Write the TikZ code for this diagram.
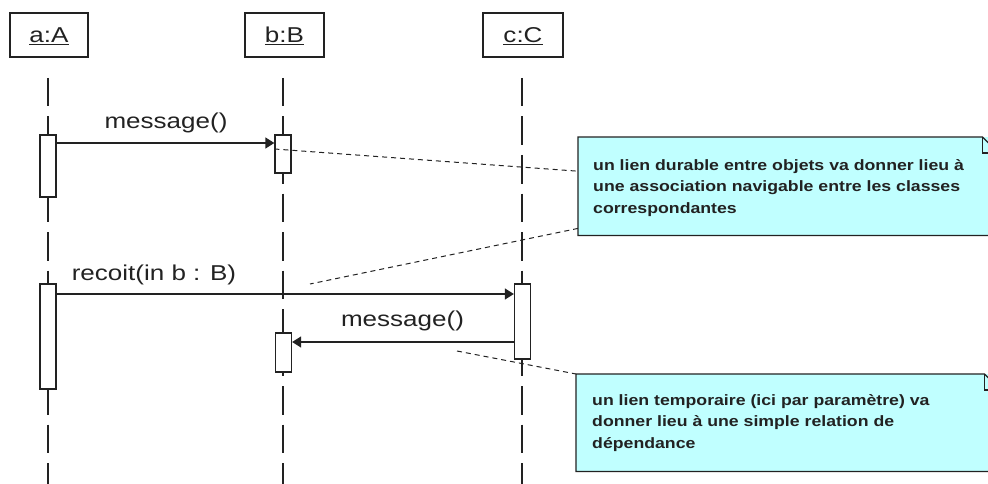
\documentclass[tikz,border=0pt]{standalone}
\usepackage{fontspec}
\usetikzlibrary{arrows.meta}
\newfontfamily\umlfont[FakeStretch=1.21]{Liberation Sans}
\newfontfamily\notefont[FakeStretch=1.18]{Liberation Sans}
\definecolor{inkgray}{RGB}{34,34,34}
\definecolor{notecyan}{RGB}{192,255,255}
% underlined object name
\newcommand\ulname[1]{\setbox0=\hbox{#1}\rlap{\smash{\rule[-2.5pt]{\wd0}{1.1pt}}}\box0}
\tikzset{
  objbox/.style={draw=inkgray, line width=1.3pt, minimum height=44pt, inner sep=0pt,
    text=inkgray, font=\umlfont\fontsize{21.5}{26}\selectfont},
  lifeline/.style={draw=inkgray, line width=1.2pt, dash pattern=on 28.5pt off 10pt},
  actbox/.style={draw=inkgray, fill=white, line width=1.3pt, minimum width=16pt, inner sep=0pt},
  msg/.style={draw=inkgray, line width=1.3pt, -{Triangle[length=9pt,width=11pt]}},
  msglabel/.style={inner sep=0pt, text=inkgray, font=\umlfont\fontsize{21.5}{26}\selectfont},
  notebody/.style={fill=notecyan, draw=none, inner sep=0pt, anchor=north west},
  noteedge/.style={draw=inkgray, line width=1.2pt, line join=miter},
  notetext/.style={inner sep=0pt, anchor=north west, align=left, text=inkgray,
    font=\notefont\bfseries\fontsize{15}{21.5}\selectfont},
  notelink/.style={draw=inkgray, line width=1pt, dash pattern=on 5pt off 4pt}
}
\begin{document}
\begin{tikzpicture}[x=1pt, y=-1pt]
\useasboundingbox (0,0) rectangle (988,484);

% objects
\node[objbox, minimum width=78pt] (A) at (49,35) {\ulname{a:A}};
\node[objbox, minimum width=79pt] (B) at (284.5,35) {\ulname{b:B}};
\node[objbox, minimum width=80pt] (C) at (523,35) {\ulname{c:C}};

% lifelines
\coordinate (Atop) at (48,78);  \coordinate (Abot) at (48,490);
\coordinate (Btop) at (283,78); \coordinate (Bbot) at (283,490);
\coordinate (Ctop) at (522,78); \coordinate (Cbot) at (522,490);
\draw[lifeline] (Atop) -- (Abot);
\draw[lifeline] (Btop) -- (Bbot);
\draw[lifeline] (Ctop) -- (Cbot);

% activations
\node[actbox, minimum height=62pt]  (a1) at (48,166) {};
\node[actbox, minimum height=38pt]  (b1) at (283,154) {};
\node[actbox, minimum height=105pt] (a2) at (48,336.5) {};
\node[actbox, minimum height=75pt]  (c2) at (522.5,321.5) {};
\node[actbox, minimum height=39pt]  (b2) at (283.5,352.5) {};

% messages
\coordinate (y1) at (0,143);
\coordinate (y2) at (0,294);
\coordinate (y3) at (0,342);
\draw[msg] (a1.east |- y1) -- (b1.west |- y1);
\draw[msg] (a2.east |- y2) -- (c2.west |- y2);
\draw[msg] (c2.west |- y3) -- (b2.east |- y3);
\node[msglabel] (l1) at (166,123) {message()};
\node[msglabel] (l2) at (154,275) {recoit(in b : B)};
\node[msglabel] (l3) at (402.5,320.5) {message()};

% note bodies
\node[notebody, minimum width=420pt, minimum height=98pt] (n1) at (578,137) {};
\node[notebody, minimum width=424pt, minimum height=97pt] (n2) at (576,374) {};

% links to the notes
\coordinate (k2) at (310,284);
\coordinate (k3) at (457,351);
\draw[notelink] ([yshift=5pt]b1.west) -- ([yshift=15pt]n1.west);
\draw[notelink] ([yshift=7pt]n1.south west) -- (k2);
\draw[notelink] (k3) -- (n2.north west);

% note outlines with folded corner
\fill[notecyan] (n1.north west) rectangle (n1.south east);
\draw[noteedge] ([xshift=-16pt]n1.north east) -- (n1.north west) -- (n1.south west) -- (n1.south east) -- ([yshift=-16pt]n1.north east) -- cycle;
\draw[noteedge] ([xshift=-16pt]n1.north east) |- ([yshift=-16pt]n1.north east);
\fill[notecyan] (n2.north west) rectangle (n2.south east);
\draw[noteedge] ([xshift=-16pt]n2.north east) -- (n2.north west) -- (n2.south west) -- (n2.south east) -- ([yshift=-16pt]n2.north east) -- cycle;
\draw[noteedge] ([xshift=-16pt]n2.north east) |- ([yshift=-16pt]n2.north east);

\node[notetext] (t1) at (593,159) {un lien durable entre objets va donner lieu à\\une association navigable entre les classes\\correspondantes};
\node[notetext] (t2) at (592,394) {un lien temporaire (ici par paramètre) va\\donner lieu à une simple relation de\\dépendance};
\end{tikzpicture}
\end{document}
